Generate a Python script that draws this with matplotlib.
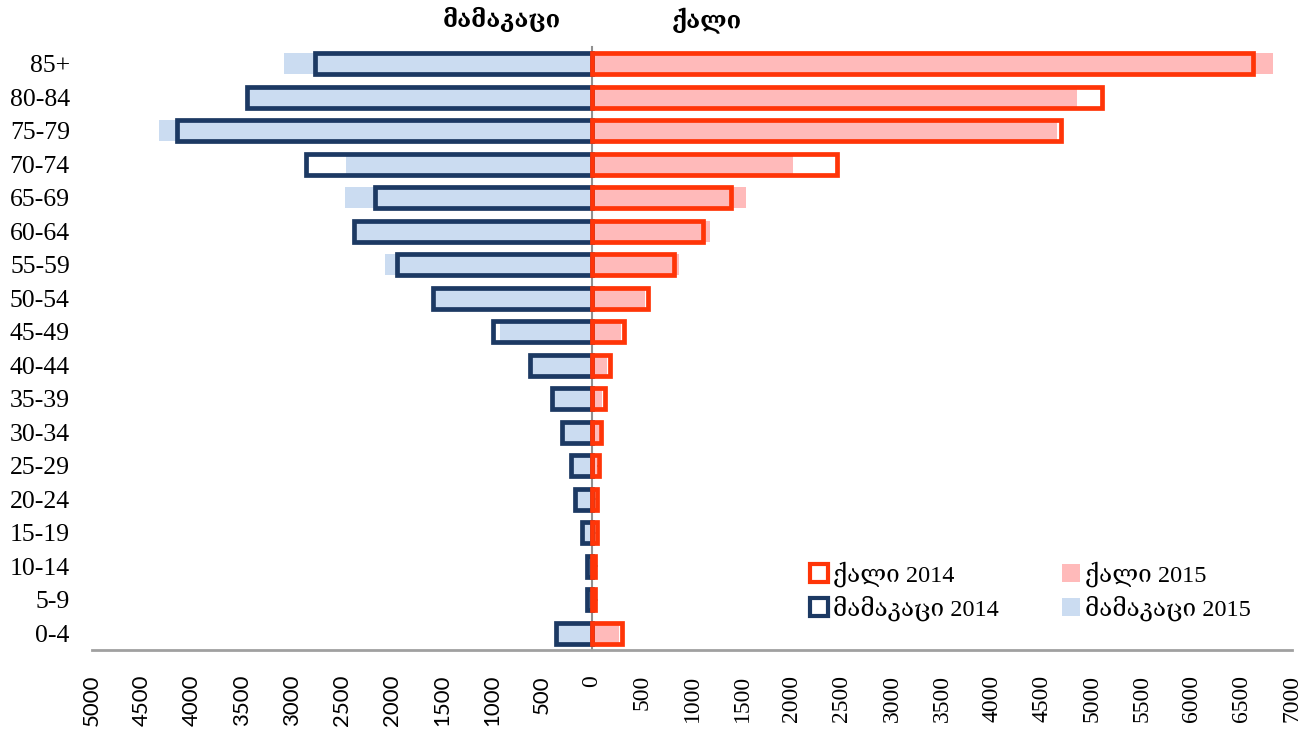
import numpy as np
import matplotlib
matplotlib.use('Agg')
from matplotlib import pyplot as plt
from matplotlib.patches import Patch
import matplotlib.transforms as mtransforms

ages = ['0-4', '5-9', '10-14', '15-19', '20-24', '25-29', '30-34', '35-39', '40-44',
        '45-49', '50-54', '55-59', '60-64', '65-69', '70-74', '75-79', '80-84', '85+']
male_2014 = [360, 50, 55, 100, 175, 215, 300, 400, 620, 990, 1590, 1950, 2380, 2170, 2860, 4150, 3450, 2770]
male_2015 = [340, 40, 40, 80, 160, 200, 280, 380, 600, 920, 1560, 2070, 2350, 2470, 2460, 4330, 3420, 3080]
female_2014 = [295, 30, 25, 50, 50, 70, 90, 125, 180, 320, 560, 820, 1110, 1385, 2445, 4690, 5095, 6610]
female_2015 = [270, 15, 10, 30, 30, 50, 70, 100, 150, 290, 530, 870, 1180, 1540, 2010, 4650, 4850, 6810]
xticks = list(range(-5000, 7001, 500))

serif = ['Liberation Serif', 'DejaVu Serif', 'DejaVu Sans']
navy = '#1c3963'
lblue = '#cbdcf1'
red = '#ff3508'
pink = '#ffbaba'

fig = plt.figure(figsize=(13.07, 7.29), dpi=100)
ax = fig.add_axes([92/1307, 1-650/729, 1200/1307, 603/729])

y = np.arange(len(ages))
m14 = -np.array(male_2014)
m15 = -np.array(male_2015)

# 2015 filled bars behind, 2014 outlined bars on top
ax.barh(y, m15, height=0.64, color=lblue, zorder=1)
ax.barh(y, female_2015, height=0.64, color=pink, zorder=1)
ax.barh(y, m14, height=0.63, facecolor='none', edgecolor=navy, linewidth=3.4, zorder=2)
ax.barh(y, female_2014, height=0.63, facecolor='none', edgecolor=red, linewidth=3.4, zorder=2)

ax.set_xlim(-5000, 7000)
ax.set_ylim(-0.5, len(ages) - 0.5)

for s in ['top', 'right', 'left']:
    ax.spines[s].set_visible(False)
ax.spines['bottom'].set_color('#a0a0a0')
ax.spines['bottom'].set_linewidth(2)

# male side labels in a sans face, female side in serif (as in the original)
ax.set_xticks(xticks)
ax.set_xticklabels([str(abs(v)) for v in xticks], rotation=90, va='top')
for v, lab in zip(xticks, ax.get_xticklabels()):
    if v < 0:
        lab.set_family('Lato')
        lab.set_fontsize(16)
    else:
        lab.set_family('Liberation Serif')
        lab.set_fontsize(17)
ax.tick_params(axis='x', length=0, pad=18)

ax.set_yticks(y)
ax.set_yticklabels(ages, family=serif, fontsize=18.5)
ax.tick_params(axis='y', length=0, pad=16)

# vertical axis line at zero with small inside ticks
sec = ax.secondary_yaxis(5000/12000)
sec.spines['left'].set_color('#909090')
sec.spines['left'].set_linewidth(1.5)
sec.set_yticks(y)
sec.set_yticklabels([])
sec.tick_params(axis='y', direction='in', length=4, width=1.2, color='#909090')

trans = mtransforms.blended_transform_factory(ax.transData, ax.transAxes)
ax.text(-900, 1.045, 'მამაკაცი', transform=trans, ha='center', va='center',
        family=serif, fontsize=17, fontweight='bold')
ax.text(1150, 1.045, 'ქალი', transform=trans, ha='center', va='center',
        family=serif, fontsize=17, fontweight='bold')

handles = [
    Patch(facecolor='white', edgecolor=red, linewidth=3, label='ქალი 2014'),
    Patch(facecolor='white', edgecolor=navy, linewidth=3, label='მამაკაცი 2014'),
    Patch(facecolor=pink, edgecolor='none', label='ქალი 2015'),
    Patch(facecolor=lblue, edgecolor='none', label='მამაკაცი 2015'),
]
fig.legend(handles=handles, ncol=2, loc='upper left',
           bbox_to_anchor=(810/1307, 1-561/729), frameon=False,
           prop={'family': serif, 'size': 17.5}, handlelength=0.75, handleheight=0.75,
           handletextpad=0.2, columnspacing=2.6, labelspacing=0.38,
           borderpad=0, borderaxespad=0)

fig.savefig('out.png', dpi=100)
